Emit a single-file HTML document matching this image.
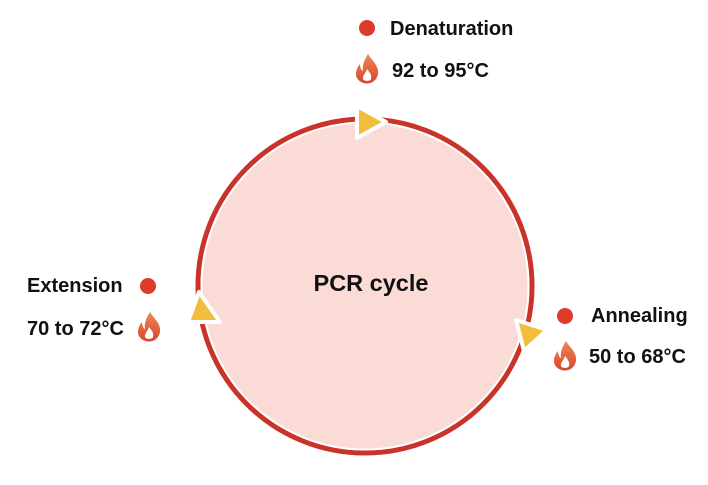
<!DOCTYPE html>
<html><head><meta charset="utf-8"><style>
html,body{margin:0;padding:0;background:#fff}
svg{display:block}
text{font-family:"Liberation Sans",Arial,sans-serif;font-weight:bold;fill:#111}
</style></head><body>
<svg width="708" height="485" viewBox="0 0 708 485" xmlns="http://www.w3.org/2000/svg">
<defs>
<linearGradient id="fg" x1="0" y1="0" x2="0" y2="1">
<stop offset="0" stop-color="#ec8a58"/><stop offset="1" stop-color="#d9452b"/>
</linearGradient>
<g id="flame">
<path d="M1,-15 C5,-8 12,-4 11,5 C10,11 5,14.5 0,14.5 C-5,14.5 -11,11 -11,5 C-11,0 -8,-4 -7,-5 C-7,-1 -5,2 -4,2 C-5,-5 -2,-10 1,-15 Z M0,0 C3,4 5,6 4,10 C3.5,12.5 -3.5,12.5 -4,10 C-4.5,6 -1,4 0,0 Z" fill="url(#fg)" fill-rule="evenodd"/>
</g>
</defs>
<circle cx="365" cy="286" r="167" fill="#fadbd6" stroke="#c9332a" stroke-width="5"/>
<circle cx="365" cy="286" r="163.5" fill="none" stroke="#fff" stroke-width="2"/>
<text x="371" y="291" font-size="23.5" text-anchor="middle">PCR cycle</text>
<polygon points="357,106 386,122 357,138" fill="#f0be3c" stroke="#fff" stroke-width="4" stroke-linejoin="round"/>
<polygon points="199,292 188,322 220,322" fill="#f0be3c" stroke="#fff" stroke-width="4" stroke-linejoin="round"/>
<polygon points="516,320 547,330 524,351" fill="#f0be3c" stroke="#fff" stroke-width="4" stroke-linejoin="round"/>
<circle cx="367" cy="28" r="8" fill="#dc3b2a"/>
<text x="390" y="35" font-size="20">Denaturation</text>
<use href="#flame" x="367" y="69"/>
<text x="392" y="77" font-size="20">92 to 95°C</text>
<circle cx="148" cy="286" r="8" fill="#dc3b2a"/>
<text x="27" y="292" font-size="20">Extension</text>
<use href="#flame" x="149" y="327"/>
<text x="27" y="335" font-size="20">70 to 72°C</text>
<circle cx="565" cy="316" r="8" fill="#dc3b2a"/>
<text x="591" y="322" font-size="20">Annealing</text>
<use href="#flame" x="565" y="356"/>
<text x="589" y="363" font-size="20">50 to 68°C</text>
</svg>
</body></html>
